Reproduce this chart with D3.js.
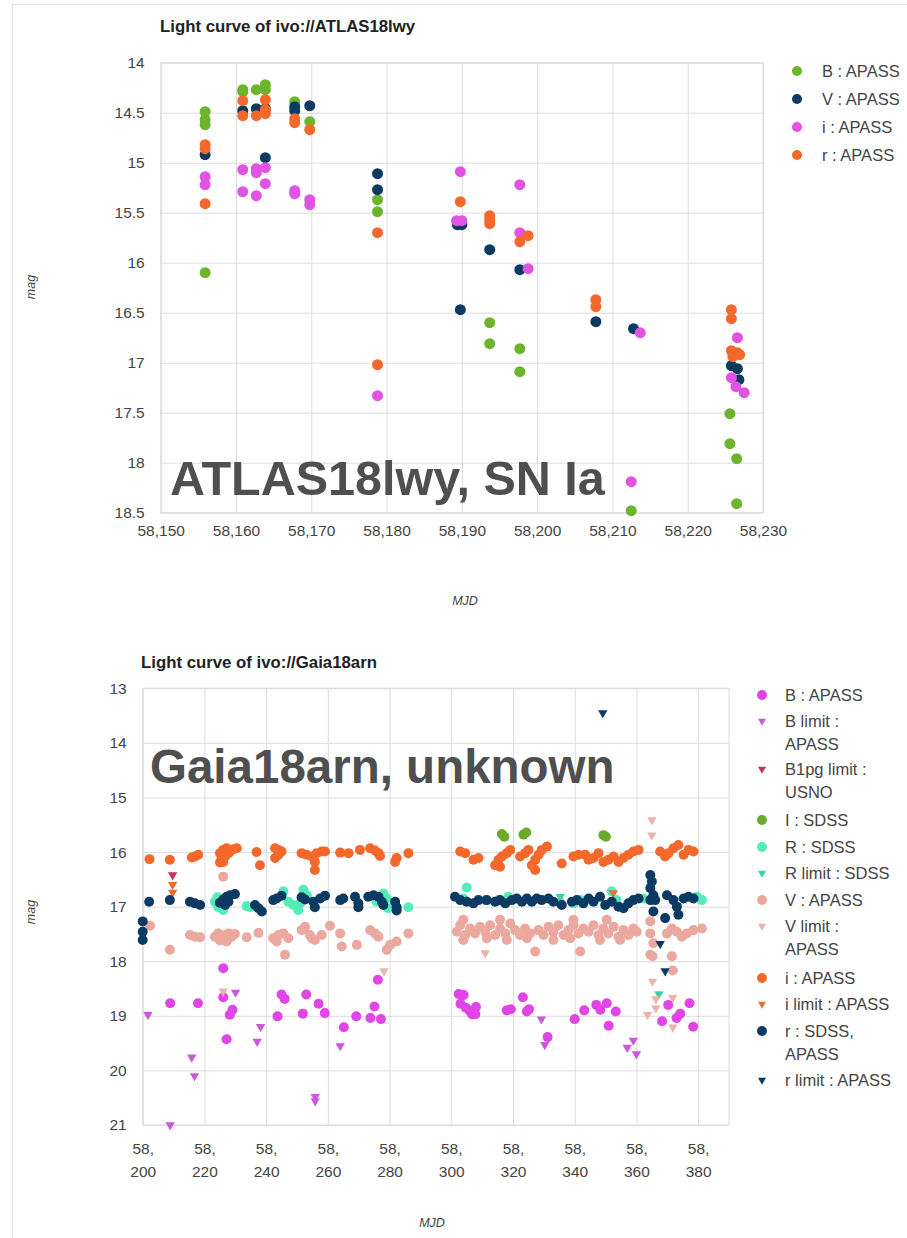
<!DOCTYPE html>
<html>
<head>
<meta charset="utf-8">
<script src="https://cdn.jsdelivr.net/npm/d3@7"></script>
<style>
  body { margin: 0; background: #fff; }
  svg text { font-family: "Liberation Sans", Arial, Helvetica, sans-serif; }
</style>
</head>
<body>
<svg id="chart" width="907" height="1238"></svg>
<script>
// ---------- ATLAS18lwy light curve ----------
const atlasXTicks = [58150, 58160, 58170, 58180, 58190, 58200, 58210, 58220, 58230];
const atlasYTicks = [14, 14.5, 15, 15.5, 16, 16.5, 17, 17.5, 18, 18.5];

const atlasB = [
  [58155.9,14.49],[58155.9,14.57],[58155.9,14.62],[58155.9,16.1],
  [58160.9,14.27],[58160.9,14.29],[58162.7,14.27],[58163.9,14.22],[58163.9,14.27],
  [58167.8,14.39],[58169.8,14.59],[58178.8,15.37],[58178.8,15.49],
  [58193.7,16.6],[58193.7,16.81],[58197.7,16.86],[58197.7,17.09],
  [58212.5,18.48],[58225.6,17.51],[58225.6,17.81],[58226.5,17.96],[58226.5,18.41]
];
const atlasV = [
  [58155.9,14.92],[58160.9,14.48],[58162.7,14.46],[58163.9,14.46],[58163.9,14.95],
  [58167.8,14.44],[58167.8,14.48],[58169.8,14.43],[58178.8,15.11],[58178.8,15.27],
  [58189.4,15.62],[58190.0,15.62],[58189.8,16.47],[58193.7,15.87],[58197.7,16.07],
  [58207.8,16.59],[58212.8,16.66],[58225.8,17.03],[58226.6,17.06],[58226.8,17.17]
];
const atlasI = [
  [58155.9,15.14],[58155.9,15.22],[58160.9,15.07],[58160.9,15.29],[58162.7,15.06],
  [58162.7,15.10],[58163.9,15.05],[58163.9,15.21],[58162.7,15.33],[58167.8,15.28],
  [58167.8,15.31],[58169.8,15.37],[58169.8,15.42],[58178.8,17.33],[58189.8,15.09],
  [58189.3,15.58],[58190.0,15.58],[58197.7,15.22],[58197.7,15.7],[58198.8,16.06],
  [58212.5,18.19],[58213.7,16.7],[58226.6,16.75],[58225.8,17.15],[58226.4,17.24],[58227.5,17.3]
];
const atlasR = [
  [58155.9,14.82],[58155.9,14.86],[58155.9,15.41],[58160.9,14.38],[58160.9,14.53],
  [58162.7,14.53],[58163.9,14.51],[58163.9,14.37],[58163.9,14.47],[58167.8,14.56],[58167.8,14.6],
  [58169.8,14.67],[58178.8,15.7],[58178.8,17.02],[58189.8,15.39],[58193.7,15.53],
  [58193.7,15.57],[58193.7,15.61],[58197.7,15.79],[58198.8,15.73],[58207.8,16.37],
  [58207.8,16.44],[58225.8,16.47],[58225.8,16.56],[58225.8,16.88],[58226.0,16.94],
  [58226.6,16.9],[58226.9,16.92]
];

// ---------- Gaia18arn light curve ----------
const gaiaXTicks = [58200, 58220, 58240, 58260, 58280, 58300, 58320, 58340, 58360, 58380];
const gaiaYTicks = [13, 14, 15, 16, 17, 18, 19, 20, 21];

const gaiaB = [
  [58208.9,18.77],[58217.9,18.77],[58226.1,18.13],[58226.1,18.66],[58227.2,19.43],
  [58228.2,18.98],[58229.1,18.89],[58243.7,19.01],[58245,18.61],[58246,18.69],
  [58251.9,18.96],[58253,18.61],[58257,18.78],[58259,18.95],[58265.2,19.21],
  [58269.2,19.01],[58273.8,19.04],[58275.1,18.83],[58276.2,18.34],[58277.2,19.06],
  [58302.4,18.6],[58304,18.62],[58303,18.78],[58304.7,18.85],[58306,18.91],
  [58306.7,18.97],[58307.4,18.9],[58308,18.84],[58307.8,18.97],[58318,18.9],
  [58319.3,18.88],[58323.2,18.66],[58324.5,18.92],[58325.2,18.88],[58331.2,19.39],
  [58340,19.06],[58343.1,18.9],[58347,18.8],[58348.3,18.89],[58350.4,18.77],
  [58351,19.18],[58353.3,18.92],[58368.3,19.1],[58370.3,18.8],[58373,19.04],
  [58374.2,18.96],[58377.2,18.77],[58378.4,19.2]
];
const gaiaBLimit = [
  [58201.7,18.98],[58208.9,21.0],[58215.9,19.76],[58216.8,20.1],[58230.1,18.57],
  [58237.1,19.47],[58238.2,19.2],[58255.9,20.48],[58255.9,20.56],[58264,19.55],
  [58329.2,19.06],[58330.3,19.53],[58357,19.58],[58359,19.45],[58360,19.7]
];
const gaiaB1pgLimit = [[58209.7,16.42]];
const gaiaISdss = [
  [58316.4,15.67],[58317.2,15.72],[58323.4,15.68],[58324.3,15.64],[58349.3,15.69],[58350.1,15.72]
];
const gaiaRSdss = [
  [58223.4,16.91],[58224.2,16.83],[58224.5,17.01],[58226.1,17.06],[58233.7,16.99],
  [58234.8,17.01],[58245.6,16.72],[58247.2,16.91],[58248.8,16.97],[58250.4,17.06],
  [58251,16.94],[58252.1,16.69],[58253.2,16.79],[58275.8,16.91],[58278,16.76],
  [58279.1,16.85],[58279.6,17.03],[58286.1,17.01],
  [58305,16.65],[58303.9,16.85],[58311,16.88],[58315.3,16.88],[58318.5,16.82],
  [58335.3,16.93],[58339.6,16.94],[58341.8,16.88],[58352,16.72],[58353.6,16.88],
  [58362.3,16.85],[58379.6,16.82],[58381.2,16.88]
];
const gaiaRLimit = [[58335.3,16.82],[58367.3,18.6]];
const gaiaV = [
  [58202.4,17.35],[58208.8,17.79],[58215.3,17.52],[58216.9,17.55],[58218.6,17.56],
  [58223.4,17.55],[58224.5,17.49],[58225.6,17.58],[58226.7,17.52],[58227.8,17.49],
  [58228.8,17.55],[58229.9,17.5],[58225.05,17.62],[58227.2,17.64],[58226.1,16.45],
  [58233.7,17.56],[58237.5,17.48],[58242.3,17.58],[58244,17.52],[58245.6,17.49],
  [58247.2,17.58],[58243.4,17.64],[58246.1,17.88],[58251.5,17.43],[58252.6,17.37],
  [58254.2,17.52],[58255.8,17.61],[58258,17.52],[58260.7,17.35],[58254.8,17.58],
  [58264,17.49],[58264.5,17.73],[58269.4,17.7],[58273.7,17.43],[58275.3,17.49],
  [58276.4,17.55],[58279.1,17.79],[58280.2,17.7],[58282.3,17.64],[58286.1,17.49],
  [58301.8,17.46],[58302.9,17.34],[58304.5,17.52],[58306.1,17.4],[58307.7,17.49],
  [58309.3,17.37],[58311,17.46],[58312.6,17.34],[58314.2,17.52],[58315.8,17.4],
  [58317.5,17.49],[58319.1,17.31],[58320.7,17.43],[58322.3,17.52],[58323.9,17.4],
  [58325.6,17.49],[58327.2,17.82],[58328.3,17.43],[58329.9,17.52],[58331.5,17.37],
  [58333.1,17.46],[58334.7,17.34],[58336.4,17.52],[58338,17.43],[58339.6,17.34],
  [58341.2,17.49],[58341.8,17.82],[58342.8,17.4],[58344.5,17.46],[58346.1,17.34],
  [58347.7,17.52],[58349.3,17.4],[58350.9,17.49],[58352.6,17.37],[58354.2,17.55],
  [58355.8,17.43],[58357.4,17.52],[58359,17.4],[58360.1,17.46],
  [58303.9,17.61],[58311.5,17.58],[58318,17.61],[58324.5,17.58],[58333.1,17.61],
  [58338.5,17.58],[58348.2,17.61],[58354.7,17.61],[58303.9,17.24],[58315.8,17.24],
  [58339.6,17.24],[58350.4,17.24],
  [58364.5,17.27],[58364.5,17.49],[58365.5,17.67],[58364.5,17.88],[58369.9,17.49],
  [58371.5,17.4],[58373.1,17.46],[58374.7,17.55],[58376.3,17.49],[58378.5,17.43],
  [58381.2,17.4],[58371.5,17.91],[58365.2,17.91],[58371.8,18.17]
];
const gaiaVLimit = [
  [58226.1,18.55],[58278.2,18.18],[58311,17.85],[58365,15.41],[58365,15.69],
  [58365.2,18.37],[58366.3,18.69],[58366.3,18.86],[58363.6,18.98],[58371.8,19.21],[58371.8,18.67]
];
const gaiaIApass = [
  [58202.2,16.13],[58208.8,16.14],[58215.9,16.1],[58217,16.08],[58218,16.05],
  [58225.05,16.02],[58226.1,15.96],[58227.2,15.93],[58228.3,15.99],[58229.4,15.95],
  [58230.5,15.93],[58225.6,16.11],[58226.7,16.08],[58227.8,16.02],[58226.1,16.18],
  [58225.05,16.19],[58236.9,16.0],[58238,16.24],[58242.9,15.93],[58244,15.96],
  [58245,15.99],[58242.9,16.11],[58244,16.05],[58251.5,16.02],[58253.1,16.05],
  [58254.8,16.08],[58256.4,16.02],[58258,15.99],[58259.1,15.99],[58255.8,16.18],
  [58255.8,16.33],[58264,16.01],[58266.7,16.02],[58270.4,15.96],[58273.7,15.93],
  [58275.3,15.97],[58276.4,16.02],[58276.9,16.07],[58281.8,16.18],[58282.3,16.11],
  [58286.1,16.02],
  [58302.9,15.99],[58304.5,16.02],[58307.2,16.14],[58308.8,16.11],[58314.2,16.24],
  [58315.3,16.14],[58316.4,16.08],[58318,16.02],[58319.1,15.96],[58315.8,16.27],
  [58322.3,16.08],[58323.9,16.02],[58325,15.96],[58326.1,16.24],[58327.2,16.14],
  [58328.3,16.05],[58329.3,15.96],[58331,15.9],[58327.2,16.33],[58335.8,16.21],
  [58339.6,16.08],[58341.2,16.05],[58343.4,16.05],[58344.5,16.14],[58346.1,16.11],
  [58347.7,16.02],[58349.3,16.18],[58350.9,16.14],[58352.6,16.08],[58354.2,16.18],
  [58355.8,16.11],[58357.4,16.05],[58359,15.99],[58360.7,15.96],[58367.7,15.99],
  [58369.3,16.08],[58370.4,16.02],[58372,15.93],[58373.6,15.87],[58375.3,16.05],
  [58376.9,15.96],[58378.5,15.99]
];
const gaiaILimit = [[58209.7,16.6],[58209.7,16.74],[58352.5,16.75]];
const gaiaRApass = [
  [58200,17.27],[58200,17.46],[58200,17.61],[58202.1,16.91],[58208.8,16.88],
  [58215.3,16.91],[58216.9,16.94],[58218.6,16.97],[58225,16.93],[58226.1,16.87],
  [58227.2,16.82],[58228.3,16.79],[58229.9,16.77],[58226.7,16.97],[58227.8,16.91],
  [58236.4,16.97],[58237.5,17.03],[58238.6,17.09],[58242.3,16.88],[58243.4,16.85],
  [58245,16.8],[58251.5,16.83],[58252.6,16.87],[58255.3,16.91],[58255.8,17.01],
  [58257.5,16.85],[58259.1,16.8],[58264,16.88],[58265,16.85],[58268.8,16.82],
  [58269.9,16.94],[58269.9,17.01],[58273.1,16.82],[58274.8,16.79],[58276.4,16.82],
  [58277.5,16.91],[58278,16.97],[58281.8,16.91],[58282.3,17.01],[58282.3,17.07],
  [58301.2,16.82],[58302.9,16.88],[58305,16.91],[58307.2,16.94],[58308.8,16.88],
  [58311.5,16.88],[58314.2,16.91],[58315.8,16.88],[58317.5,16.94],[58319.6,16.88],
  [58321.2,16.85],[58322.9,16.91],[58324.5,16.85],[58326.1,16.91],[58327.7,16.85],
  [58329.3,16.88],[58331.5,16.85],[58333.1,16.91],[58335.8,16.97],[58339.1,16.91],
  [58340.7,16.88],[58342.8,16.94],[58344.5,16.85],[58346.1,16.91],[58348.2,16.82],
  [58349.9,16.97],[58352,16.91],[58354.2,17.0],[58355.8,17.03],[58357.4,16.94],
  [58359,16.88],[58360.7,16.85],[58364.5,16.42],[58365,16.54],[58364.5,16.66],
  [58365.5,16.79],[58364.5,16.88],[58366.1,16.88],[58365.5,17.09],[58369.3,17.21],
  [58369.9,16.79],[58372,16.88],[58373.1,17.0],[58373.6,17.15],[58375.3,16.85],
  [58376.9,16.82],[58378.5,16.85]
];
const gaiaRLimitApass = [[58349.1,13.45],[58367.7,17.68],[58369.3,18.18]];

// ---------- drawing ----------
const svg = d3.select("#chart");

// page frame
svg.append("line").attr("x1", 12.5).attr("x2", 12.5).attr("y1", 4).attr("y2", 1238)
  .attr("stroke", "#e2e2e2");
svg.append("line").attr("x1", 12).attr("x2", 907).attr("y1", 4.5).attr("y2", 4.5)
  .attr("stroke", "#e2e2e2");

const GRID = "#dcdcdc";
const TXT = "#444";

function panel(cfg) {
  const x = d3.scaleLinear().domain(cfg.xDomain).range([cfg.left, cfg.right]);
  const y = d3.scaleLinear().domain(cfg.yDomain).range([cfg.top, cfg.bottom]);
  const g = svg.append("g");

  // title
  g.append("text").attr("x", cfg.titleX).attr("y", cfg.titleY)
    .attr("font-size", 16.8).attr("font-weight", "bold").attr("fill", "#222")
    .text(cfg.title);

  // horizontal grid + y labels
  const yAxis = d3.axisLeft(y).tickValues(cfg.yTicks)
    .tickSize(-(cfg.right - cfg.left)).tickPadding(16).tickFormat(d => String(d));
  const ya = g.append("g").attr("transform", `translate(${cfg.left},0)`).call(yAxis);
  ya.select(".domain").remove();
  ya.selectAll(".tick line").attr("stroke", GRID);
  ya.selectAll(".tick text").attr("font-size", 15.5).attr("fill", TXT)
    .attr("font-family", "Liberation Sans, Arial, sans-serif");

  // vertical grid + x labels
  const xAxis = d3.axisBottom(x).tickValues(cfg.xTicks)
    .tickSize(-(cfg.bottom - cfg.top)).tickFormat("");
  const xa = g.append("g").attr("transform", `translate(0,${cfg.bottom})`).call(xAxis);
  xa.select(".domain").remove();
  xa.selectAll(".tick line").attr("stroke", GRID);
  xa.selectAll(".tick").each(function(d) {
    const lines = cfg.xLabel(d);
    const t = d3.select(this).append("text").attr("fill", TXT).attr("font-size", 15.5)
      .attr("text-anchor", "middle").attr("font-family", "Liberation Sans, Arial, sans-serif");
    lines.forEach((s, i) => {
      t.append("tspan").attr("x", 0).attr("y", cfg.xLabelY + i * 23).text(s);
    });
  });

  // plot frame
  g.append("rect").attr("x", cfg.left).attr("y", cfg.top)
    .attr("width", cfg.right - cfg.left).attr("height", cfg.bottom - cfg.top)
    .attr("fill", "none").attr("stroke", GRID);

  // axis titles
  g.append("text").attr("transform", `translate(${cfg.magX},${cfg.magY}) rotate(-90)`)
    .attr("text-anchor", "middle").attr("font-size", 12.5).attr("font-style", "italic")
    .attr("fill", TXT).text("mag");
  g.append("text").attr("x", cfg.mjdX).attr("y", cfg.mjdY)
    .attr("text-anchor", "middle").attr("font-size", 12.5).attr("font-style", "italic")
    .attr("fill", TXT).text("MJD");

  // big annotation
  g.append("text").attr("x", cfg.noteX).attr("y", cfg.noteY)
    .attr("font-size", cfg.noteSize).attr("font-weight", "bold").attr("fill", "#4f4f4f")
    .text(cfg.note);

  // series
  const tri = d3.symbol().type(d3.symbolTriangle);
  cfg.series.forEach(s => {
    const sg = g.append("g");
    if (s.shape === "circle") {
      sg.selectAll("circle").data(s.data).join("circle")
        .attr("cx", d => x(d[0])).attr("cy", d => y(d[1]))
        .attr("r", s.r).attr("fill", s.color);
    } else {
      sg.selectAll("path").data(s.data).join("path")
        .attr("d", tri.size(s.size)())
        .attr("transform", d => `translate(${x(d[0])},${y(d[1])}) rotate(180)`)
        .attr("fill", s.color);
    }
  });

  // legend
  const lg = g.append("g");
  cfg.series.forEach(s => {
    if (s.shape === "circle") {
      lg.append("circle").attr("cx", cfg.legX).attr("cy", s.legY).attr("r", 5)
        .attr("fill", s.color);
    } else {
      lg.append("path").attr("d", tri.size(28)())
        .attr("transform", `translate(${cfg.legX},${s.legY}) rotate(180)`)
        .attr("fill", s.color);
    }
    const t = lg.append("text").attr("fill", TXT).attr("font-size", cfg.legFont);
    s.label.forEach((line, i) => {
      t.append("tspan").attr("x", cfg.legTextX).attr("y", s.legY + 5.5 + i * 23).text(line);
    });
  });
}

const fmtComma = d3.format(",");

panel({
  title: "Light curve of ivo://ATLAS18lwy", titleX: 160, titleY: 32,
  left: 160.7, right: 763, top: 62.7, bottom: 512.7,
  xDomain: [58150, 58230], yDomain: [14, 18.5],
  xTicks: atlasXTicks, yTicks: atlasYTicks,
  xLabel: d => [fmtComma(d)], xLabelY: 23,
  magX: 35, magY: 287, mjdX: 465, mjdY: 605,
  note: "ATLAS18lwy, SN Ia", noteX: 170, noteY: 495, noteSize: 48.5,
  legX: 797, legTextX: 822, legFont: 16.5,
  series: [
    { data: atlasB, color: "#6db42d", shape: "circle", r: 5.5, label: ["B : APASS"], legY: 71 },
    { data: atlasV, color: "#0c3a63", shape: "circle", r: 5.5, label: ["V : APASS"], legY: 99 },
    { data: atlasI, color: "#e153e3", shape: "circle", r: 5.5, label: ["i : APASS"], legY: 127 },
    { data: atlasR, color: "#f4692b", shape: "circle", r: 5.5, label: ["r : APASS"], legY: 155 }
  ]
});

panel({
  title: "Light curve of ivo://Gaia18arn", titleX: 141, titleY: 668,
  left: 142.7, right: 729, top: 688.3, bottom: 1125,
  xDomain: [58200, 58390], yDomain: [13, 21],
  xTicks: gaiaXTicks, yTicks: gaiaYTicks,
  xLabel: d => [fmtComma(d).split(",")[0] + ",", fmtComma(d).split(",")[1]], xLabelY: 29,
  magX: 35, magY: 912, mjdX: 432, mjdY: 1227,
  note: "Gaia18arn, unknown", noteX: 150, noteY: 783, noteSize: 47.5,
  legX: 762, legTextX: 785, legFont: 16.5,
  series: [
    { data: gaiaB, color: "#e046e6", shape: "circle", r: 5, label: ["B : APASS"], legY: 695 },
    { data: gaiaBLimit, color: "#c85ad8", shape: "tri", size: 38, label: ["B limit :", "APASS"], legY: 721 },
    { data: gaiaB1pgLimit, color: "#c7305f", shape: "tri", size: 38, label: ["B1pg limit :", "USNO"], legY: 769 },
    { data: gaiaISdss, color: "#6aab2c", shape: "circle", r: 5, label: ["I : SDSS"], legY: 820 },
    { data: gaiaRSdss, color: "#54edb9", shape: "circle", r: 5, label: ["R : SDSS"], legY: 847 },
    { data: gaiaRLimit, color: "#3fd1a8", shape: "tri", size: 38, label: ["R limit : SDSS"], legY: 873 },
    { data: gaiaV, color: "#eba89e", shape: "circle", r: 5, label: ["V : APASS"], legY: 900 },
    { data: gaiaVLimit, color: "#ebb3aa", shape: "tri", size: 38, label: ["V limit :", "APASS"], legY: 926 },
    { data: gaiaIApass, color: "#f4692b", shape: "circle", r: 5, label: ["i : APASS"], legY: 978 },
    { data: gaiaILimit, color: "#e27138", shape: "tri", size: 38, label: ["i limit : APASS"], legY: 1004 },
    { data: gaiaRApass, color: "#0c3a63", shape: "circle", r: 5, label: ["r : SDSS,", "APASS"], legY: 1031 },
    { data: gaiaRLimitApass, color: "#0c3a63", shape: "tri", size: 38, label: ["r limit : APASS"], legY: 1080 }
  ]
});
</script>
</body>
</html>
